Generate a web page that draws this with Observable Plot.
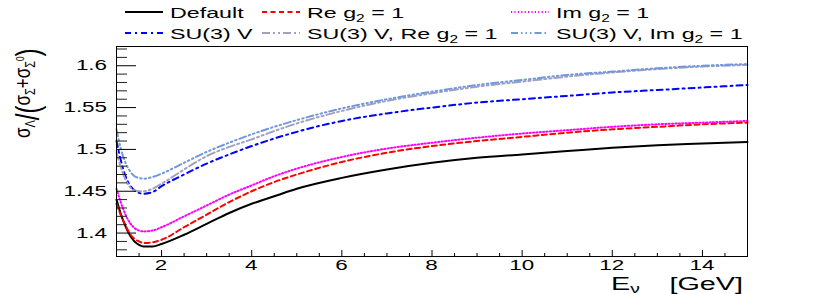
<!DOCTYPE html>
<html><head><meta charset="utf-8">
<script src="https://cdn.jsdelivr.net/npm/d3@7"></script>
<script src="https://cdn.jsdelivr.net/npm/@observablehq/plot@0.6"></script>
<style>body{margin:0;background:#fff} svg{font-family:"Liberation Sans",Arial,sans-serif}</style>
</head><body><div id="chart"></div>
<script>
// ---- data ----
const energy = [1.0,1.1,1.2,1.3,1.4,1.5,1.6,1.8,2.0,2.5,3.0,3.5,4.0,4.5,5.0,6.0,7.0,8.0,9.0,10.0,11.0,12.0,13.0,14.0,15.0];
const defaultRatio = [1.440,1.422,1.408,1.397,1.390,1.386,1.384,1.384,1.387,1.398,1.411,1.424,1.435,1.444,1.453,1.466,1.476,1.484,1.490,1.494,1.498,1.502,1.505,1.507,1.509];
const reG2Ratio    = [1.435,1.421,1.409,1.399,1.393,1.390,1.388,1.389,1.392,1.407,1.422,1.437,1.450,1.461,1.470,1.485,1.496,1.504,1.510,1.515,1.520,1.524,1.527,1.530,1.532];
const imG2Ratio    = [1.453,1.436,1.422,1.412,1.406,1.403,1.402,1.403,1.407,1.420,1.433,1.446,1.457,1.468,1.477,1.491,1.501,1.508,1.514,1.519,1.523,1.527,1.530,1.532,1.534];
const su3Ratio     = [1.510,1.486,1.468,1.457,1.451,1.448,1.447,1.449,1.456,1.470,1.483,1.494,1.504,1.513,1.521,1.534,1.543,1.550,1.556,1.560,1.564,1.568,1.571,1.574,1.577];
const su3ReRatio   = [1.497,1.478,1.464,1.455,1.451,1.450,1.450,1.453,1.459,1.476,1.492,1.503,1.512,1.522,1.531,1.546,1.558,1.567,1.575,1.581,1.587,1.592,1.596,1.599,1.601];
const su3ImRatio   = [1.524,1.500,1.484,1.474,1.468,1.466,1.465,1.467,1.471,1.484,1.497,1.508,1.518,1.527,1.535,1.549,1.560,1.569,1.577,1.583,1.589,1.593,1.597,1.600,1.602];

const xTicks = [2,4,6,8,10,12,14];
const xMinor = [1.5,2.5,3,3.5,4.5,5,5.5,6.5,7,7.5,8.5,9,9.5,10.5,11,11.5,12.5,13,13.5,14.5];
const yTicks = [1.4,1.45,1.5,1.55,1.6];
const yTickLabels = ["1.4","1.45","1.5","1.55","1.6"];
const yMinor = [1.38,1.39,1.41,1.42,1.43,1.44,1.46,1.47,1.48,1.49,1.51,1.52,1.53,1.54,1.56,1.57,1.58,1.59,1.61,1.62];

const series = [
  {label:["Default"], values: defaultRatio, color:"#000000", dash:null},
  {label:["Re g","2"," = 1"], values: reG2Ratio, color:"#ff0000", dash:"5,3.5"},
  {label:["Im g","2"," = 1"], values: imG2Ratio, color:"#ff00ff", dash:"1.2,2.2"},
  {label:["SU(3) V"], values: su3Ratio, color:"#0000ff", dash:"6,4,2,4"},
  {label:["SU(3) V, Re g","2"," = 1"], values: su3ReRatio, color:"#a0a0c0", dash:"8,3,2,3,2,3"},
  {label:["SU(3) V, Im g","2"," = 1"], values: su3ImRatio, color:"#7098dc", dash:"7,3,1.5,3,1.5,3,1.5,3"}
];

const W = 830, H = 294, mL = 116, mR = 83, mT = 46, mB = 38;
const pw = W - mL - mR, ph = H - mT - mB;
const SX = 1.6; // horizontal stretch of the reference's lettering

const lineMarks = series.map(s => Plot.line(energy.map((e,i)=>({x:e, y:s.values[i]})), {
  x:"x", y:"y", stroke:s.color, strokeWidth:2, strokeDasharray:s.dash, curve:"monotone-x"
}));

const plot = Plot.plot({
  width: W, height: H,
  marginLeft: mL, marginRight: mR, marginTop: mT, marginBottom: mB,
  x: {domain:[1,15], axis:null},
  y: {domain:[1.372,1.623], axis:null},
  style: {fontFamily:'"Liberation Sans", Arial, sans-serif', background:"white"},
  marks: [
    ...lineMarks,
    Plot.tickY(yTicks, {y:d=>d, insetRight: pw-20, stroke:"#000", strokeWidth:1}),
    Plot.tickY(yMinor, {y:d=>d, insetRight: pw-11, stroke:"#222", strokeWidth:1}),
    Plot.tickX(xTicks, {x:d=>d, insetTop: ph-6, stroke:"#000", strokeWidth:1}),
    Plot.tickX(xMinor, {x:d=>d, insetTop: ph-3, stroke:"#000", strokeWidth:1}),
    Plot.frame({stroke:"#000", strokeWidth:1})
  ]
});
document.getElementById("chart").appendChild(plot);

const svg = d3.select(plot);
const xs = plot.scale("x"), ys = plot.scale("y");

// tick labels (positions from Plot's own scales)
const lab = svg.append("g").attr("fill","#000").attr("font-size",14);
xTicks.forEach(v => {
  lab.append("text").attr("text-anchor","middle")
    .attr("transform",`translate(${xs.apply(v)},${H-mB+14}) scale(${SX},1)`).text(String(v));
});
yTicks.forEach((v,i) => {
  lab.append("text").attr("text-anchor","end")
    .attr("transform",`translate(${mL-9},${ys.apply(v)+5}) scale(${SX},1)`).text(yTickLabels[i]);
});

// legend
const leg = svg.append("g");
const cols = [125, 262, 511];
series.forEach((s,i) => {
  const col = i % 3, row = Math.floor(i/3);
  const cx = cols[col], cy = row === 0 ? 12 : 33;
  leg.append("line").attr("x1",cx).attr("x2",cx+38).attr("y1",cy).attr("y2",cy)
    .attr("stroke",s.color).attr("stroke-width",2).attr("stroke-dasharray",s.dash);
  const t = leg.append("text").attr("text-anchor","start")
    .attr("transform",`translate(${cx+45},${cy+5.5}) scale(1.55,1)`)
    .attr("font-size",15).attr("fill","#000");
  t.append("tspan").text(s.label[0]);
  if (s.label.length > 1) {
    t.append("tspan").attr("font-size",10).attr("dy",4).text(s.label[1]);
    t.append("tspan").attr("dy",-4).text(s.label[2]);
  }
});

// x axis title
const xt = svg.append("text").attr("text-anchor","start").attr("font-size",18).attr("fill","#000")
  .attr("transform",`translate(611,290) scale(${SX},1)`);
xt.append("tspan").text("E");
xt.append("tspan").attr("font-size",12).attr("dy",3).text("ν");
svg.append("text").attr("font-size",18).attr("fill","#000").attr("text-anchor","end")
  .attr("transform",`translate(743,290) scale(${SX},1)`).text("[GeV]");

// y axis title
const yt = svg.append("text").attr("text-anchor","start").attr("font-size",17).attr("fill","#000")
  .attr("transform",`translate(30,138) rotate(-90) scale(1,1.35)`);
yt.append("tspan").text("σ");
yt.append("tspan").attr("font-size",11).attr("dy",3.5).text("Λ");
yt.append("tspan").attr("font-size",24).attr("dy",3).text("/");
yt.append("tspan").attr("font-size",24).text("(");
yt.append("tspan").attr("dy",-6.5).text("σ");
yt.append("tspan").attr("font-size",11).attr("dy",3.5).text("Σ");
yt.append("tspan").attr("dy",-3.5).text("+σ");
yt.append("tspan").attr("font-size",11).attr("dy",3.5).text("Σ");
yt.append("tspan").attr("font-size",8).attr("dy",-8).text("0");
yt.append("tspan").attr("font-size",24).attr("dy",11).text(")");
</script></body></html>
